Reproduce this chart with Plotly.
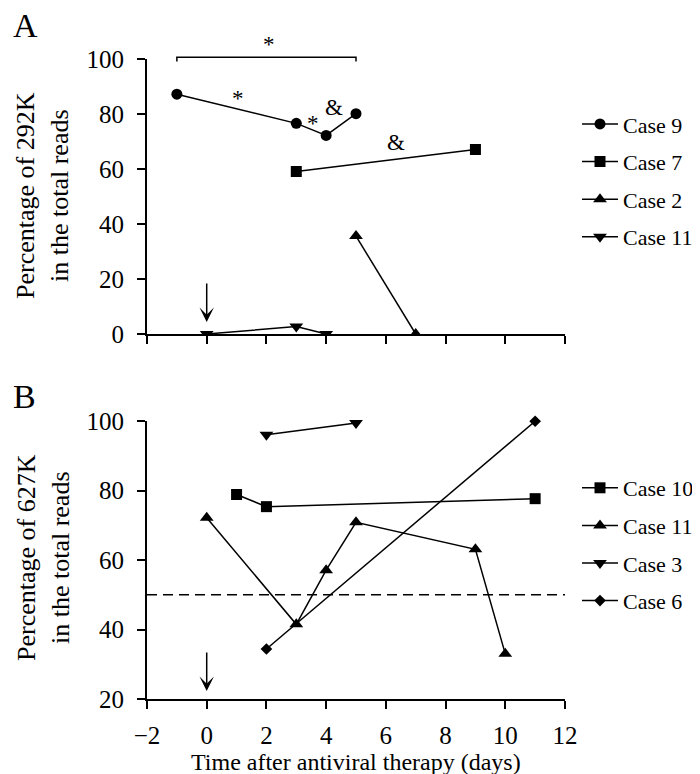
import plotly.graph_objects as go

# ---------------- data ----------------
# Panel A: percentage of 292K
a_case9_x = [-1, 3, 4, 5]
a_case9_y = [87.2, 76.6, 72.2, 80.1]
a_case7_x = [3, 9]
a_case7_y = [59.1, 67.1]
a_case2_x = [5, 7]
a_case2_y = [35.6, 0.0]
a_case11_x = [0, 3, 4]
a_case11_y = [0.0, 2.7, 0.0]

# Panel B: percentage of 627K
b_case10_x = [1, 2, 11]
b_case10_y = [78.9, 75.4, 77.7]
b_case11_x = [0, 3, 4, 5, 9, 10]
b_case11_y = [72.2, 41.5, 57.1, 70.9, 63.1, 33.0]
b_case3_x = [2, 5]
b_case3_y = [96.1, 99.5]
b_case6_x = [2, 11]
b_case6_y = [34.4, 100.0]

threshold_b = 50
x_ticks = [-2, 0, 2, 4, 6, 8, 10, 12]
a_y_ticks = [0, 20, 40, 60, 80, 100]
b_y_ticks = [20, 40, 60, 80, 100]

FONT = "Liberation Serif"
BLACK = "black"

fig = go.Figure()

def add_series(x, y, name, symbol, size, xa, ya, legend, group, clip):
    fig.add_trace(go.Scatter(
        x=x, y=y, name=name, mode="lines+markers",
        line=dict(color=BLACK, width=1.5),
        marker=dict(symbol=symbol, size=size, color=BLACK),
        xaxis=xa, yaxis=ya, legend=legend, legendgroup=group,
        cliponaxis=clip,
    ))

add_series(a_case9_x, a_case9_y, "Case 9", "circle", 11, "x", "y", "legend", "a9", True)
add_series(a_case7_x, a_case7_y, "Case 7", "square", 11, "x", "y", "legend", "a7", True)
add_series(a_case2_x, a_case2_y, "Case 2", "triangle-up", 12, "x", "y", "legend", "a2", True)
add_series(a_case11_x, a_case11_y, "Case 11", "triangle-down", 12, "x", "y", "legend", "a11", True)

add_series(b_case10_x, b_case10_y, "Case 10", "square", 11, "x2", "y2", "legend2", "b10", False)
add_series(b_case11_x, b_case11_y, "Case 11", "triangle-up", 12, "x2", "y2", "legend2", "b11", False)
add_series(b_case3_x, b_case3_y, "Case 3", "triangle-down", 12, "x2", "y2", "legend2", "b3", False)
add_series(b_case6_x, b_case6_y, "Case 6", "diamond", 9, "x2", "y2", "legend2", "b6", False)

axis_common = dict(
    showline=True, linecolor=BLACK, linewidth=2,
    ticks="outside", ticklen=8, tickwidth=2, tickcolor=BLACK,
    showgrid=False, zeroline=False, automargin=False,
    tickfont=dict(family=FONT, size=25, color=BLACK),
)

legend_common = dict(
    font=dict(family=FONT, size=22, color=BLACK),
    bgcolor="rgba(0,0,0,0)", borderwidth=0,
    tracegroupgap=6, itemwidth=36,
    xanchor="left", yanchor="top",
)

fig.update_layout(
    width=700, height=774,
    margin=dict(l=139, r=143, t=51, b=83, autoexpand=False),
    paper_bgcolor="white", plot_bgcolor="white",
    font=dict(family=FONT, color=BLACK),
    xaxis=dict(domain=[0, 1], range=[-2, 12], tickvals=x_ticks,
               showticklabels=False, anchor="y", **axis_common),
    yaxis=dict(domain=[0.5703, 1], range=[0, 100], tickvals=a_y_ticks,
               anchor="x", ticklabelstandoff=8, **axis_common),
    xaxis2=dict(domain=[0, 1], range=[-2, 12], tickvals=x_ticks,
                anchor="y2", ticklabelstandoff=5, **axis_common),
    yaxis2=dict(domain=[0, 0.434], range=[20, 100], tickvals=b_y_ticks,
                anchor="x2", ticklabelstandoff=8, **axis_common),
    legend=dict(x=1.0287, y=0.931, **legend_common),
    legend2=dict(x=1.0287, y=0.3625, **legend_common),
    showlegend=True,
)

# dashed 50% line in panel B
fig.add_shape(type="line", xref="x2", yref="y2", x0=-2, x1=12,
              y0=threshold_b, y1=threshold_b,
              line=dict(color=BLACK, width=1.5, dash="10px,6px"))

# significance bracket in panel A
fig.add_shape(type="path", xref="x", yref="paper",
              path="M -1,0.9961 L -1,1.0027 L 5,1.0027 L 5,0.9961",
              line=dict(color=BLACK, width=1.5))

ann_font = dict(family=FONT, size=23, color=BLACK)
marks = [
    (2.09, 1.0219, "*", "x", "paper"),
    (1.05, 85.8, "*", "x", "y"),
    (3.565, 76.5, "*", "x", "y"),
    (4.27, 82.2, "&", "x", "y"),
    (6.35, 69.5, "&", "x", "y"),
]
for mx, my, mt, xr, yr in marks:
    fig.add_annotation(x=mx, y=my, text=mt, xref=xr, yref=yr, showarrow=False,
                       font=ann_font, xanchor="center", yanchor="middle")

# therapy-start arrows
fig.add_annotation(x=0, y=4.4, ax=0, ay=18.9, xref="x", yref="y", axref="x", ayref="y",
                   text="", showarrow=True, arrowhead=3, arrowsize=1.6,
                   arrowwidth=1.5, arrowcolor=BLACK)
fig.add_annotation(x=0, y=22.3, ax=0, ay=33.8, xref="x2", yref="y2", axref="x2", ayref="y2",
                   text="", showarrow=True, arrowhead=3, arrowsize=1.6,
                   arrowwidth=1.5, arrowcolor=BLACK)

title_font = dict(family=FONT, size=26, color=BLACK)
# axis titles
fig.add_annotation(x=-0.2488, y=0.786, xref="paper", yref="paper",
                   text="Percentage of 292K<br>in the total reads", textangle=-90,
                   showarrow=False, font=title_font, xanchor="center", yanchor="middle")
fig.add_annotation(x=-0.2488, y=0.2203, xref="paper", yref="paper",
                   text="Percentage of 627K<br>in the total reads", textangle=-90,
                   showarrow=False, font=title_font, xanchor="center", yanchor="middle")
fig.add_annotation(x=0.5, y=-0.0984, xref="paper", yref="paper",
                   text="Time after antiviral therapy (days)",
                   showarrow=False, font=dict(family=FONT, size=24, color=BLACK),
                   xanchor="center", yanchor="middle")

# panel labels
fig.add_annotation(x=-0.3254, y=1.053, xref="paper", yref="paper", text="A",
                   showarrow=False, font=dict(family=FONT, size=34, color=BLACK),
                   xanchor="left", yanchor="middle")
fig.add_annotation(x=-0.3254, y=0.472, xref="paper", yref="paper", text="B",
                   showarrow=False, font=dict(family=FONT, size=34, color=BLACK),
                   xanchor="left", yanchor="middle")

fig.write_html("out.html")
